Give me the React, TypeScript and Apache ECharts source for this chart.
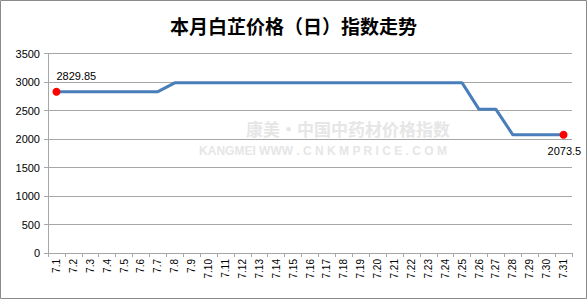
import React, { useEffect, useRef } from "react";
import * as echarts from "echarts";

const categories = ["7.1","7.2","7.3","7.4","7.5","7.6","7.7","7.8","7.9","7.10","7.11","7.12","7.13","7.14","7.15","7.16","7.17","7.18","7.19","7.20","7.21","7.22","7.23","7.24","7.25","7.26","7.27","7.28","7.29","7.30","7.31"];
const values = [2829.85,2829.85,2829.85,2829.85,2829.85,2829.85,2829.85,2985,2985,2985,2985,2985,2985,2985,2985,2985,2985,2985,2985,2985,2985,2985,2985,2985,2985,2520,2520,2073.5,2073.5,2073.5,2073.5];
const title = "本月白芷价格（日）指数走势";
const watermarkCn = "康美·中国中药材价格指数";
const watermarkEn = "KANGMEI WWW . C N K M P R I C E . C O M";

export default function App() {
  const ref = useRef<HTMLDivElement>(null);
  useEffect(() => {
    document.body.style.margin = "0";
    const chart = echarts.init(ref.current!, null, { renderer: "svg" });
    const last = values.length - 1;
    const data = values.map((v, i) => {
      if (i === 0) {
        return { value: v, symbol: "circle", symbolSize: 8, label: { show: true, position: [4, -17], formatter: String(v) } };
      }
      if (i === last) {
        return { value: v, symbol: "circle", symbolSize: 8, label: { show: true, position: [-12, 15], formatter: String(v) } };
      }
      return { value: v, symbol: "none" };
    });
    chart.setOption({
      animation: false,
      backgroundColor: "#fff",
      title: {
        text: title,
        left: "center",
        top: 11,
        textStyle: { fontFamily: "Noto Sans CJK SC", fontSize: 19, fontWeight: "bold", color: "#000" },
      },
      graphic: [
        { type: "rect", shape: { x: 0.5, y: 0.5, width: 586, height: 298 }, style: { fill: "none", stroke: "#8a8a8a", lineWidth: 1 }, z: 0 },
        { type: "text", x: 348, y: 128, style: { text: watermarkCn, fontFamily: "Noto Sans CJK SC", fontSize: 17, fontWeight: "bold", fill: "#e6e6e6", align: "center", verticalAlign: "middle" }, z: 0 },
        { type: "text", x: 323, y: 151, style: { text: watermarkEn, fontFamily: "Liberation Sans", fontSize: 12, fontWeight: "bold", fill: "#e6e6e6", align: "center", verticalAlign: "middle" }, z: 0 },
      ],
      grid: { left: 48, right: 15, top: 53.5, bottom: 46, containLabel: false },
      xAxis: {
        type: "category",
        data: categories,
        boundaryGap: true,
        axisLine: { lineStyle: { color: "#a6a6a6", width: 1 } },
        axisTick: { show: true, length: 4, lineStyle: { color: "#a6a6a6" } },
        axisLabel: { rotate: 90, interval: 0, fontFamily: "Liberation Sans", fontSize: 10, color: "#000", margin: 6 },
      },
      yAxis: {
        type: "value",
        min: 0,
        max: 3500,
        interval: 500,
        axisLine: { show: true, lineStyle: { color: "#a6a6a6", width: 1 } },
        axisTick: { show: true, length: 4, lineStyle: { color: "#a6a6a6" } },
        axisLabel: { fontFamily: "Liberation Sans", fontSize: 11, color: "#000", margin: 8, formatter: (v: number) => String(v) },
        splitLine: { lineStyle: { color: "#a6a6a6", width: 1 } },
      },
      series: [
        {
          type: "line",
          data,
          lineStyle: { color: "#4a7ebb", width: 3 },
          itemStyle: { color: "#ff0000" },
          label: { fontFamily: "Liberation Sans", fontSize: 11, color: "#000" },
          z: 3,
        },
      ],
    });
    return () => chart.dispose();
  }, []);
  return <div ref={ref} style={{ width: 587, height: 299 }} />;
}
